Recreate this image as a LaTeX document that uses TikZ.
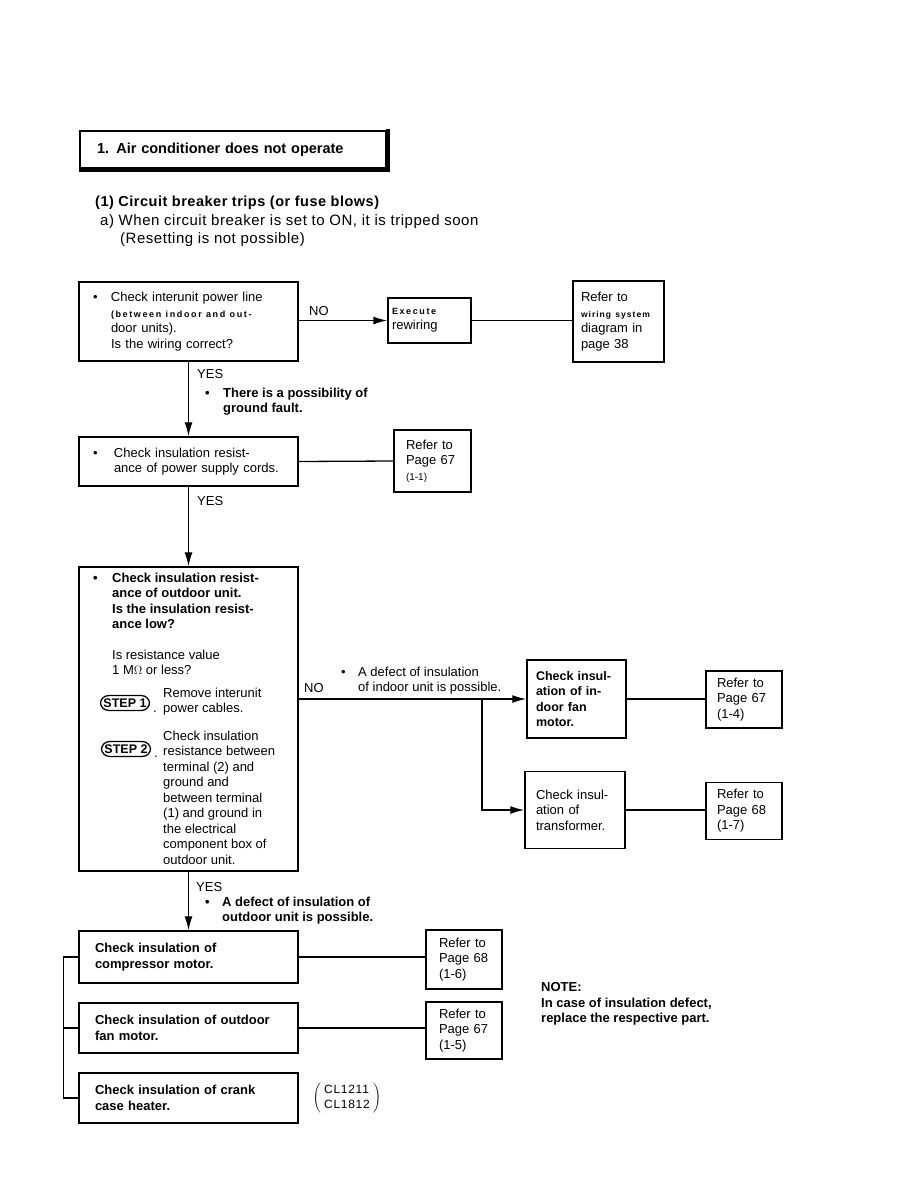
\documentclass[tikz,border=0pt]{standalone}
\usepackage{fontspec}
\setmainfont{Liberation Sans}
\usepackage{graphicx}
\usetikzlibrary{arrows.meta,calc,positioning}
\newcommand\bodyfont{\fontsize{13}{15.5}\selectfont}
\newcommand\smallbold{\fontsize{9}{10}\selectfont\bfseries\addfontfeature{LetterSpace=18}}
\newcommand\smallreg{\fontsize{10}{12}\selectfont}
\newcommand\bul{\makebox[18pt][l]{\textbullet}}
\newcommand\ind{\hspace*{18pt}}
\tikzset{
  wire/.style={black,line width=1.3pt},
  flow/.style={wire,-{Latex[length=14pt,width=8pt]}},
  box/.style={draw=black,line width=1.5pt,align=left,inner ysep=0pt,font=\bodyfont},
  boldbox/.style={box,font=\bodyfont\bfseries},
  mainbox/.style={box,minimum width=219pt},
  refbox/.style={box,minimum width=76pt,minimum height=57pt,text width=52pt,inner xsep=12pt},
  lab/.style={font=\bodyfont,inner sep=0pt,anchor=base west},
  notelab/.style={font=\bodyfont,inner sep=0pt,anchor=north west,align=left},
  stepoval/.style={draw=black,line width=1.3pt,rounded corners=8pt,inner xsep=3pt,
                   inner ysep=3pt,font=\fontsize{12.5}{14}\selectfont\bfseries},
}

\begin{document}
\begin{tikzpicture}[x=1pt,y=-1pt]
  \path[use as bounding box,fill=white] (0,0) rectangle (918,1188);

  % heading
  \node[draw=black,line width=1.2pt,minimum width=306pt,minimum height=37pt,text width=272pt,
        inner xsep=17pt,align=left,font=\fontsize{14.5}{16}\selectfont\bfseries]
    (title) at (233,149.5) {1. Air conditioner does not operate};
  \draw[line width=3.5pt] ($(title.north east)+(1.5,-1)$) -- ($(title.south east)+(1.5,1.5)$)
    -- ($(title.south west)+(0,1.5)$);
  \node[lab,font=\fontsize{14.5}{16}\selectfont\bfseries\addfontfeature{LetterSpace=3.5}] (cause) at (95,206)
    {(1) Circuit breaker trips (or fuse blows)};
  \node[lab,font=\fontsize{15}{16}\selectfont\addfontfeature{LetterSpace=3.5}] (casea) at (100,225)
    {a) When circuit breaker is set to ON, it is tripped soon};
  \node[lab,font=\fontsize{15}{16}\selectfont\addfontfeature{LetterSpace=3.5}] (caseb) at (120,243)
    {(Resetting is not possible)};

  % wiring
  \node[mainbox,minimum height=79pt,text width=191pt,inner xsep=14pt] (wiring) at (188.5,321.5)
    {\bul Check interunit power line\\
     \ind{\smallbold (between indoor and out-}\\
     \ind door units).\\
     \ind Is the wiring correct?};
  \node[box,minimum width=83pt,minimum height=45pt,text width=75pt,inner xsep=4pt] (rewire) at (429.5,320.5)
    {{\smallbold Execute}\\rewiring};
  \node[box,minimum width=91pt,minimum height=81pt,text width=75pt,inner xsep=8pt] (refwiring) at (618.5,321.5)
    {Refer to\\\mbox{\fontsize{8.5}{10}\selectfont\bfseries\addfontfeature{LetterSpace=12}wiring system}\\diagram in\\page 38};
  \draw[flow] (wiring.east |- rewire.west) -- (rewire.west);
  \draw[wire] (rewire.east) -- (rewire.east -| refwiring.west);
  \node[lab] (nowiring) at (309,315) {NO};

  % power supply cords
  \node[mainbox,minimum height=49pt,text width=191pt,inner xsep=14pt] (cords) at (188.5,461.5)
    {\makebox[21pt][l]{\textbullet}Check insulation resist-\\
     \hspace*{21pt}ance of power supply cords.};
  \node[box,minimum width=77pt,minimum height=62pt,text width=53pt,inner xsep=12pt] (refcords) at (432.5,461)
    {Refer to\\Page 67\\{\smallreg (1-1)}};
  \draw[flow] (wiring.south) -- (cords.north);
  \draw[wire] (cords.east) -- (refcords.west);
  \node[lab] (yeswiring) at (197,378) {YES};
  \node[notelab,font=\bodyfont\bfseries] (groundnote) at (205,387.5)
    {\bul There is a possibility of\\\ind ground fault.};

  % outdoor unit
  \node[mainbox,minimum height=304pt] (outdoor) at (188.5,719) {};
  \draw[flow] (cords.south) -- (outdoor.north);
  \node[lab] (yescords) at (197,505) {YES};
  \node[notelab,font=\bodyfont\bfseries] (outdoorask) at (93,572.5)
    {\makebox[19pt][l]{\textbullet}Check insulation resist-\\
     \hspace*{19pt}ance of outdoor unit.\\
     \hspace*{19pt}Is the insulation resist-\\
     \hspace*{19pt}ance low?};
  \node[notelab] (valueask) at (112,649.5) {Is resistance value\\1 M$\Omega$ or less?};
  \node[stepoval] (stepone) at (125,703) {STEP 1};
  \node[lab] (dotone) at (153,712) {.};
  \node[notelab] (steponetext) at (163,687.5) {Remove interunit\\power cables.};
  \node[stepoval] (steptwo) at (126,749) {STEP 2};
  \node[lab] (dottwo) at (154,757) {.};
  \node[notelab] (steptwotext) at (163,730.5)
    {Check insulation\\resistance between\\terminal (2) and\\ground and\\between terminal\\
     (1) and ground in\\the electrical\\component box of\\outdoor unit.};

  % indoor unit branch
  \node[box,font=\fontsize{12.5}{15.5}\selectfont\bfseries,minimum width=99pt,minimum height=78pt,
        text width=81pt,inner xsep=9pt] (indoorfan) at (576.5,699)
    {Check insul-\\ation of in-\\door fan\\motor.};
  \node[box,minimum width=100pt,minimum height=77pt,text width=78pt,inner xsep=11pt]
    (transformer) at (575,810) {Check insul-\\ation of\\transformer.};
  \node[refbox,inner xsep=11pt,text width=54pt] (reffan) at (744,699.5) {Refer to\\Page 67\\(1-4)};
  \node[refbox,inner xsep=11pt,text width=54pt] (reftrans) at (744,811) {Refer to\\Page 68\\(1-7)};
  \draw[flow] (outdoor.east |- indoorfan.west) -- (indoorfan.west);
  \coordinate (split) at (482,699);
  \draw[flow] (split) |- (transformer.west);
  \draw[wire] (indoorfan.east) -- (indoorfan.east -| reffan.west);
  \draw[wire] (transformer.east) -- (transformer.east -| reftrans.west);
  \node[lab] (nooutdoor) at (304,692) {NO};
  \node[notelab] (indoornote) at (341,666.5)
    {\makebox[17pt][l]{\textbullet}A defect of insulation\\\hspace*{17pt}of indoor unit is possible.};

  % outdoor parts
  \node[mainbox,font=\bodyfont\bfseries,minimum height=52pt,text width=187pt,inner xsep=16pt]
    (compressor) at (188.5,957) {Check insulation of\\compressor motor.};
  \node[mainbox,font=\bodyfont\bfseries,minimum height=50pt,text width=187pt,inner xsep=16pt]
    (outfan) at (188.5,1028) {Check insulation of outdoor\\fan motor.};
  \node[mainbox,font=\bodyfont\bfseries,minimum height=50pt,text width=187pt,inner xsep=16pt]
    (crank) at (188.5,1098) {Check insulation of crank\\case heater.};
  \node[refbox,inner xsep=13pt,text width=50pt,minimum height=59pt] (refcomp) at (464,959.5) {Refer to\\Page 68\\(1-6)};
  \node[refbox,inner xsep=13pt,text width=50pt] (refoutfan) at (464,1030.5) {Refer to\\Page 67\\(1-5)};
  \draw[flow] (outdoor.south) -- (compressor.north);
  \draw[wire] (compressor.east) -- (compressor.east -| refcomp.west);
  \draw[wire] (outfan.east) -- (outfan.east -| refoutfan.west);
  \draw[wire] (compressor.west) -- ++(-15,0) coordinate (bus) |- (crank.west);
  \draw[wire] (outfan.west) -- (outfan.west -| bus);
  \node[lab] (yesoutdoor) at (196,891) {YES};
  \node[notelab,font=\bodyfont\bfseries] (outdoornote) at (205,896.5)
    {\makebox[17pt][l]{\textbullet}A defect of insulation of\\\hspace*{17pt}outdoor unit is possible.};
  \node[inner sep=0pt,font=\fontsize{12}{13}\selectfont\addfontfeature{LetterSpace=6}] (models) at (347,1098)
    {$\left(\;\vcenter{\hbox{\renewcommand\arraystretch{1.1}\begin{tabular}{@{}l@{}}CL1211\\CL1812\end{tabular}}}\;\right)$};

  % note
  \node[notelab,font=\bodyfont\bfseries] (note) at (541,982.5)
    {NOTE:\\In case of insulation defect,\\replace the respective part.};
\end{tikzpicture}
\end{document}
